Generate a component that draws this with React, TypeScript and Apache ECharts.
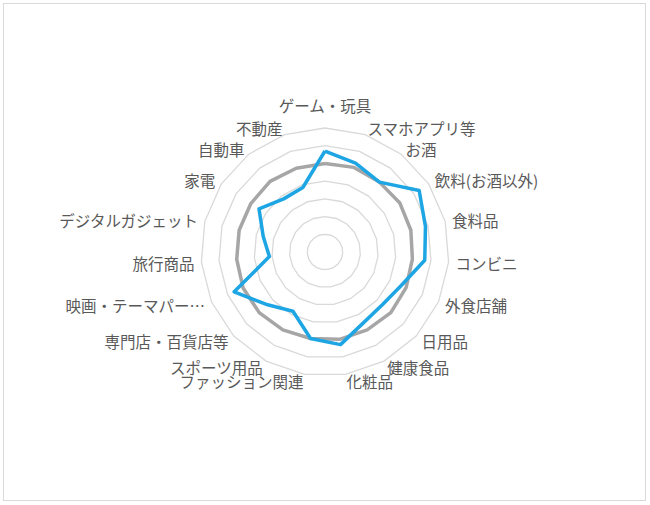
import { useEffect, useRef } from "react";
import * as echarts from "echarts";

// 時計回り（上から）の項目
const categories = [
  "ゲーム・玩具",
  "スマホアプリ等",
  "お酒",
  "飲料(お酒以外)",
  "食料品",
  "コンビニ",
  "外食店舗",
  "日用品",
  "健康食品",
  "化粧品",
  "ファッション関連",
  "スポーツ用品",
  "専門店・百貨店等",
  "映画・テーマパー…",
  "旅行商品",
  "デジタルガジェット",
  "家電",
  "自動車",
  "不動産",
];

const blueValues = [57, 53, 50, 63.5, 58.5, 56.5, 47, 44, 45.5, 53, 49.5, 38, 44, 56, 31.5, 36, 44.5, 38, 38.5];
const grayValues = [50, 50.5, 50, 50.5, 50, 49.5, 50, 50.5, 50, 50, 49.5, 50, 50.5, 50.5, 50, 50, 50, 50.5, 50];

const maxValue = 70;
const rings = 7;

// ECharts は反時計回りに並べるので順序を反転
const order = [0, ...categories.map((_, i) => i).slice(1).reverse()];
const pick = (arr: any[]) => order.map((i) => arr[i]);

const App = () => {
  const chartRef = useRef<HTMLDivElement>(null);

  useEffect(() => {
    const chart = echarts.init(chartRef.current, null, { renderer: "svg" });
    chart.setOption({
      animation: false,
      radar: {
        center: [325, 252],
        radius: 124,
        startAngle: 90,
        splitNumber: rings,
        shape: "polygon",
        nameGap: 7,
        axisName: {
          color: "#595959",
          fontSize: 15.5,
          fontFamily: "Noto Sans CJK JP",
          formatter: (name: string) => (name === categories[0] ? `{top|${name}}` : name),
          rich: {
            top: {
              color: "#595959",
              fontSize: 15.5,
              fontFamily: "Noto Sans CJK JP",
              padding: [0, 0, 8, 0],
            },
          },
        },
        axisLine: { show: false },
        axisTick: { show: false },
        axisLabel: { show: false },
        splitArea: { show: false },
        splitLine: { lineStyle: { color: "#d9d9d9", width: 1.3 } },
        indicator: pick(categories).map((name) => ({ name, min: 0, max: maxValue })),
      },
      series: [
        {
          type: "radar",
          symbol: "none",
          data: [
            {
              name: "平均",
              value: pick(grayValues),
              lineStyle: { color: "#a6a6a6", width: 3.5 },
            },
            {
              name: "対象",
              value: pick(blueValues),
              lineStyle: { color: "#1ea5e3", width: 3.5 },
            },
          ],
        },
      ],
    });
    return () => {
      chart.dispose();
    };
  }, []);

  return (
    <div style={{ position: "absolute", left: 0, top: 0, width: 650, height: 505, background: "#fff" }}>
      <div
        style={{
          position: "absolute",
          left: 3,
          top: 3,
          width: 643,
          height: 498,
          boxSizing: "border-box",
          border: "1px solid #d9d9d9",
        }}
      ></div>
      <div ref={chartRef} style={{ position: "absolute", left: 0, top: 0, width: 650, height: 505 }}></div>
    </div>
  );
};

export default App;
